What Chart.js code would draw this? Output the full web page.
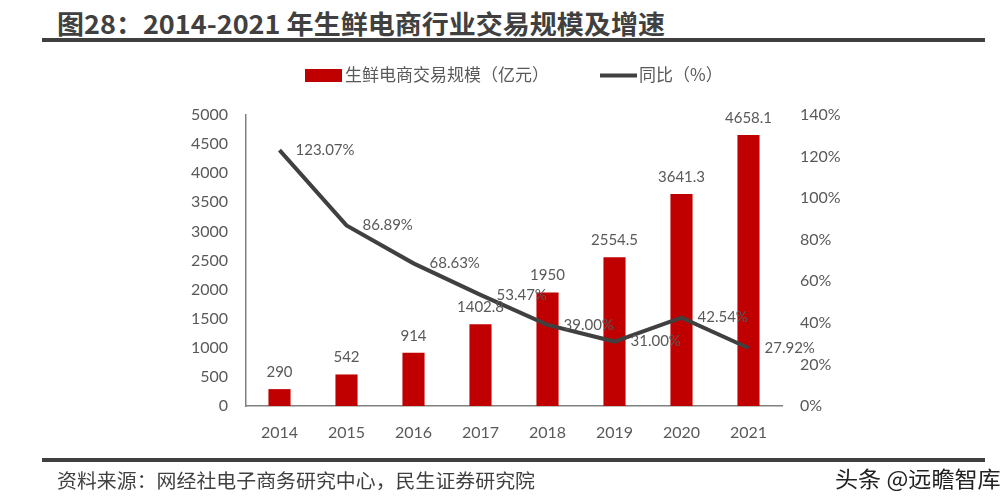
<!DOCTYPE html>
<html>
<head>
<meta charset="utf-8">
<script src="https://cdn.jsdelivr.net/npm/chart.js@4"></script>
<style>
  body { margin: 0; background: #fff; }
  #wrap { position: relative; width: 1006px; height: 501px; overflow: hidden; }
  #chart { position: absolute; left: 0; top: 0; }
  .title { position: absolute; left: 57px; top: 4px; font: bold 26px "Noto Sans CJK SC"; color: #404040;
           transform-origin: left top; white-space: nowrap; }
  .rule { position: absolute; left: 42px; width: 943px; height: 4px; background: #404040; }
  .source { position: absolute; left: 57px; top: 466px; font: 19px "Noto Sans CJK SC"; color: #404040;
            transform-origin: left top; white-space: nowrap; }
  .mark { position: absolute; left: 835px; top: 461px; font: 22px "Noto Sans CJK SC"; color: #222;
          transform-origin: left top; white-space: nowrap; }
</style>
</head>
<body>
<div id="wrap">
  <div class="title" id="title">图28：2014-2021 年生鲜电商行业交易规模及增速</div>
  <div class="rule" style="top:38px"></div>
  <canvas id="chart" width="1006" height="501"></canvas>
  <div class="rule" style="top:458px"></div>
  <div class="source" id="source">资料来源：网经社电子商务研究中心，民生证券研究院</div>
  <div class="mark" id="mark">头条 @远瞻智库</div>
</div>
<script>
// Chart data
const years = ['2014', '2015', '2016', '2017', '2018', '2019', '2020', '2021'];
const tradeScale = [290, 542, 914, 1402.8, 1950, 2554.5, 3641.3, 4658.1]; // 亿元
const growth = [123.07, 86.89, 68.63, 53.47, 39.00, 31.00, 42.54, 27.92]; // %
const scaleLabel = '生鲜电商交易规模（亿元）';
const growthLabel = '同比（%）';

const barColor = '#C00000';
const lineColor = '#404040';
const textColor = '#595959';
const tickFont = { family: 'Lato', size: 16 };

// Squeeze the texts to the widths they have in the picture
function fitWidth(id, w) {
    const el = document.getElementById(id);
    el.style.transform = 'scaleX(' + (w / el.offsetWidth) + ')';
}
fitWidth('title', 608);
fitWidth('source', 478);
fitWidth('mark', 166);

// Value labels over bars and beside the line
const valueLabels = {
    id: 'valueLabels',
    afterDatasetsDraw(chart) {
        const ctx = chart.ctx;
        ctx.save();
        ctx.font = '15px Lato';
        ctx.fillStyle = textColor;
        ctx.textBaseline = 'middle';

        ctx.textAlign = 'center';
        chart.getDatasetMeta(0).data.forEach((bar, i) => {
            ctx.fillText(String(tradeScale[i]), bar.x, bar.y - 17);
        });

        ctx.textAlign = 'left';
        chart.getDatasetMeta(1).data.forEach((pt, i) => {
            ctx.fillText(growth[i].toFixed(2) + '%', pt.x + 16, pt.y);
        });
        ctx.restore();
    }
};

// Legend drawn by hand: red box for bars, thick stroke for the line
const topLegend = {
    id: 'topLegend',
    afterDraw(chart) {
        const ctx = chart.ctx;
        ctx.save();
        ctx.fillStyle = barColor;
        ctx.fillRect(305, 69, 37, 13);
        ctx.strokeStyle = lineColor;
        ctx.lineWidth = 4;
        ctx.beginPath();
        ctx.moveTo(600, 75.5);
        ctx.lineTo(637, 75.5);
        ctx.stroke();
        ctx.font = '17px "Noto Sans CJK SC"';
        ctx.fillStyle = textColor;
        ctx.textBaseline = 'middle';
        ctx.fillText(scaleLabel, 345, 75);
        ctx.fillText(growthLabel, 639, 75);
        ctx.restore();
    }
};

const ctx = document.getElementById('chart').getContext('2d');
const chart = new Chart(ctx, {
    type: 'bar',
    data: {
        labels: years,
        datasets: [{
            label: scaleLabel,
            data: tradeScale,
            backgroundColor: barColor,
            categoryPercentage: 1,
            barPercentage: 0.33,
            yAxisID: 'y',
            order: 1
        }, {
            type: 'line',
            label: growthLabel,
            data: growth,
            borderColor: lineColor,
            borderWidth: 4,
            pointRadius: 0,
            tension: 0,
            yAxisID: 'y1',
            order: 0
        }]
    },
    options: {
        responsive: false,
        animation: false,
        layout: { padding: { top: 115, left: 0, right: 0, bottom: 0 } },
        plugins: {
            legend: { display: false },
            tooltip: { enabled: false }
        },
        scales: {
            x: {
                grid: { display: false, drawTicks: false },
                border: { color: '#808080', width: 1.5 },
                ticks: { color: textColor, font: tickFont, padding: 17 },
                afterFit: s => { s.height = 95; }
            },
            y: {
                position: 'left',
                min: 0, max: 5000,
                grid: { display: false, drawTicks: false },
                border: { color: '#808080', width: 1.5 },
                ticks: { stepSize: 500, color: textColor, font: tickFont, padding: 18,
                         callback: v => String(v) },
                afterFit: s => { s.width = 246; }
            },
            y1: {
                position: 'right',
                min: 0, max: 140,
                grid: { display: false, drawTicks: false },
                border: { display: false },
                ticks: { stepSize: 20, color: textColor, font: tickFont, padding: 18,
                         callback: v => v + '%' },
                afterFit: s => { s.width = 224; }
            }
        }
    },
    plugins: [valueLabels, topLegend]
});
</script>
</body>
</html>
